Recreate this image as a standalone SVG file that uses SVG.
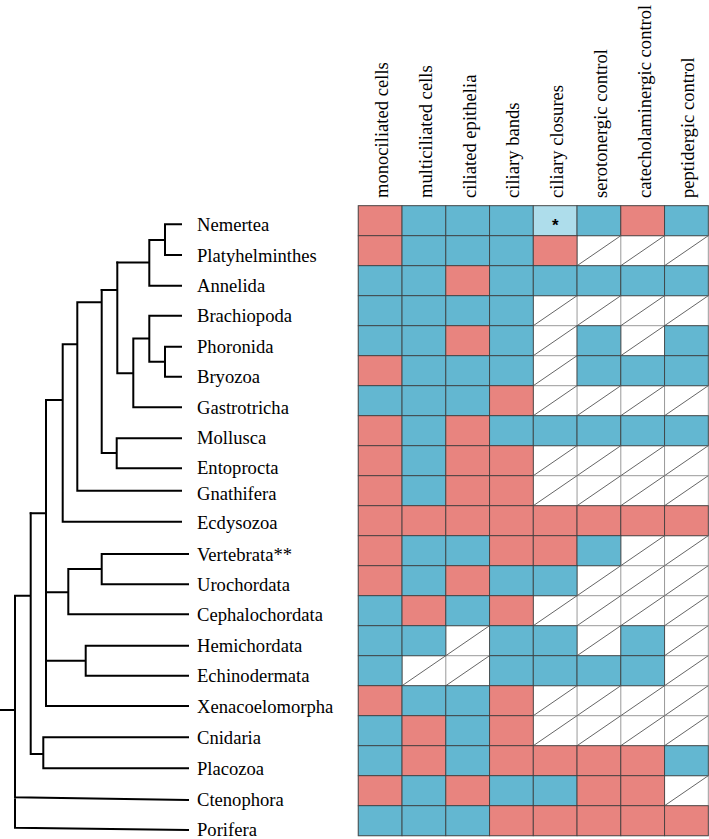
<svg xmlns="http://www.w3.org/2000/svg" xmlns:xlink="http://www.w3.org/1999/xlink" width="709" height="839" viewBox="0 0 709 839">
<style>
.t{font-family:"Liberation Serif","Times New Roman",serif;font-size:18.6px;fill:#000}
.r{fill:#E8847F;stroke:#3a3a3a;stroke-opacity:.8;stroke-width:1}
.b{fill:#63B7D1;stroke:#3a3a3a;stroke-opacity:.8;stroke-width:1}
.l{fill:#AEDDEB;stroke:#3a3a3a;stroke-opacity:.8;stroke-width:1}
.d{stroke:#666;stroke-width:1;fill:none}
.g{stroke:#999;stroke-width:1;fill:none}
.tree{stroke:#000;stroke-width:2;fill:none;stroke-linecap:square;stroke-linejoin:miter}
</style>
<defs>
<rect id="R" class="r" width="43.75" height="30"/>
<rect id="B" class="b" width="43.75" height="30"/>
<rect id="L" class="l" width="43.75" height="30"/>
<line id="W" class="d" x1="0" y1="30" x2="43.75" y2="0"/>
</defs>
<rect width="709" height="839" fill="#fff"/>
<g id="headers" class="t">
<text transform="translate(388.2,198) rotate(-90)">monociliated cells</text>
<text transform="translate(431.9,198) rotate(-90)">multiciliated cells</text>
<text transform="translate(475.7,198) rotate(-90)">ciliated epithelia</text>
<text transform="translate(519.4,198) rotate(-90)">ciliary bands</text>
<text transform="translate(563.2,198) rotate(-90)">ciliary closures</text>
<text transform="translate(606.9,198) rotate(-90)">serotonergic control</text>
<text transform="translate(650.7,198) rotate(-90)">catecholaminergic control</text>
<text transform="translate(694.4,198) rotate(-90)">peptidergic control</text>
</g>
<g id="grid" class="g">
<rect x="358.3" y="205.7" width="350" height="630" fill="#fff"/>
<path d="M402.05,205.7V835.7M445.8,205.7V835.7M489.55,205.7V835.7M533.3,205.7V835.7M577.05,205.7V835.7M620.8,205.7V835.7M664.55,205.7V835.7M358.3,235.7H708.3M358.3,265.7H708.3M358.3,295.7H708.3M358.3,325.7H708.3M358.3,355.7H708.3M358.3,385.7H708.3M358.3,415.7H708.3M358.3,445.7H708.3M358.3,475.7H708.3M358.3,505.7H708.3M358.3,535.7H708.3M358.3,565.7H708.3M358.3,595.7H708.3M358.3,625.7H708.3M358.3,655.7H708.3M358.3,685.7H708.3M358.3,715.7H708.3M358.3,745.7H708.3M358.3,775.7H708.3M358.3,805.7H708.3"/>
</g>
<g id="connectors" class="tree">
<path d="M181,224.3H165V255H181M165,240H149.3V285.7H181M149.3,262.5H117.3"/>
<path d="M181,346.7H165V376.7H181M165,361.7H149.3M181,315.7H149.3V361.7M149.3,338.5H133.3V407.3H181M133.3,373.3H117.3V262.5M117.3,290H101.7"/>
<path d="M181,438.3H116.7V468.3H181M116.7,453H101.7V290M101.7,302.3H77.3V490.7H181M77.3,344.3H62.7V521.7H181M62.7,400H46V706H188M46,513.3H30.7"/>
<path d="M188,554H101.7V584.3H188M101.7,569H68.3V614.3H188M68.3,592.3H46M188,645.7H85.7V675.7H188M85.7,660.7H46"/>
<path d="M188,737.3H43.3V768.3H188M43.3,754H30.7V513.3M30.7,595.7H15V828M15,797.3L188,800M15,827.7L188,830M0,710H15"/>
</g>
<g id="nemertea"><text class="t" x="197" y="230.7">Nemertea</text>
<use href="#R" x="358.3" y="205.7"/><use href="#B" x="402.05" y="205.7"/><use href="#B" x="445.8" y="205.7"/><use href="#B" x="489.55" y="205.7"/><use href="#L" x="533.3" y="205.7"/><use href="#B" x="577.05" y="205.7"/><use href="#R" x="620.8" y="205.7"/><use href="#B" x="664.55" y="205.7"/>
<text x="555.2" y="230.5" text-anchor="middle" style="font-family:'Liberation Sans',Arial,sans-serif;font-size:17px;font-weight:bold">*</text></g>
<g id="platyhelminthes"><text class="t" x="197" y="261.5">Platyhelminthes</text>
<use href="#R" x="358.3" y="235.7"/><use href="#B" x="402.05" y="235.7"/><use href="#B" x="445.8" y="235.7"/><use href="#B" x="489.55" y="235.7"/><use href="#R" x="533.3" y="235.7"/><use href="#W" x="577.05" y="235.7"/><use href="#W" x="620.8" y="235.7"/><use href="#W" x="664.55" y="235.7"/></g>
<g id="annelida"><text class="t" x="197" y="292.2">Annelida</text>
<use href="#B" x="358.3" y="265.7"/><use href="#B" x="402.05" y="265.7"/><use href="#R" x="445.8" y="265.7"/><use href="#B" x="489.55" y="265.7"/><use href="#B" x="533.3" y="265.7"/><use href="#B" x="577.05" y="265.7"/><use href="#B" x="620.8" y="265.7"/><use href="#B" x="664.55" y="265.7"/></g>
<g id="brachiopoda"><text class="t" x="197" y="322.2">Brachiopoda</text>
<use href="#B" x="358.3" y="295.7"/><use href="#B" x="402.05" y="295.7"/><use href="#B" x="445.8" y="295.7"/><use href="#B" x="489.55" y="295.7"/><use href="#W" x="533.3" y="295.7"/><use href="#W" x="577.05" y="295.7"/><use href="#W" x="620.8" y="295.7"/><use href="#W" x="664.55" y="295.7"/></g>
<g id="phoronida"><text class="t" x="197" y="353.2">Phoronida</text>
<use href="#B" x="358.3" y="325.7"/><use href="#B" x="402.05" y="325.7"/><use href="#R" x="445.8" y="325.7"/><use href="#B" x="489.55" y="325.7"/><use href="#W" x="533.3" y="325.7"/><use href="#B" x="577.05" y="325.7"/><use href="#W" x="620.8" y="325.7"/><use href="#B" x="664.55" y="325.7"/></g>
<g id="bryozoa"><text class="t" x="197" y="383.2">Bryozoa</text>
<use href="#R" x="358.3" y="355.7"/><use href="#B" x="402.05" y="355.7"/><use href="#B" x="445.8" y="355.7"/><use href="#B" x="489.55" y="355.7"/><use href="#W" x="533.3" y="355.7"/><use href="#B" x="577.05" y="355.7"/><use href="#B" x="620.8" y="355.7"/><use href="#B" x="664.55" y="355.7"/></g>
<g id="gastrotricha"><text class="t" x="197" y="413.8">Gastrotricha</text>
<use href="#B" x="358.3" y="385.7"/><use href="#B" x="402.05" y="385.7"/><use href="#B" x="445.8" y="385.7"/><use href="#R" x="489.55" y="385.7"/><use href="#W" x="533.3" y="385.7"/><use href="#W" x="577.05" y="385.7"/><use href="#W" x="620.8" y="385.7"/><use href="#W" x="664.55" y="385.7"/></g>
<g id="mollusca"><text class="t" x="197" y="444.3">Mollusca</text>
<use href="#R" x="358.3" y="415.7"/><use href="#B" x="402.05" y="415.7"/><use href="#R" x="445.8" y="415.7"/><use href="#B" x="489.55" y="415.7"/><use href="#B" x="533.3" y="415.7"/><use href="#B" x="577.05" y="415.7"/><use href="#B" x="620.8" y="415.7"/><use href="#B" x="664.55" y="415.7"/></g>
<g id="entoprocta"><text class="t" x="197" y="474.3">Entoprocta</text>
<use href="#R" x="358.3" y="445.7"/><use href="#B" x="402.05" y="445.7"/><use href="#R" x="445.8" y="445.7"/><use href="#R" x="489.55" y="445.7"/><use href="#W" x="533.3" y="445.7"/><use href="#W" x="577.05" y="445.7"/><use href="#W" x="620.8" y="445.7"/><use href="#W" x="664.55" y="445.7"/></g>
<g id="gnathifera"><text class="t" x="197" y="500">Gnathifera</text>
<use href="#R" x="358.3" y="475.7"/><use href="#B" x="402.05" y="475.7"/><use href="#R" x="445.8" y="475.7"/><use href="#R" x="489.55" y="475.7"/><use href="#W" x="533.3" y="475.7"/><use href="#W" x="577.05" y="475.7"/><use href="#W" x="620.8" y="475.7"/><use href="#W" x="664.55" y="475.7"/></g>
<g id="ecdysozoa"><text class="t" x="197" y="528.5">Ecdysozoa</text>
<use href="#R" x="358.3" y="505.7"/><use href="#R" x="402.05" y="505.7"/><use href="#R" x="445.8" y="505.7"/><use href="#R" x="489.55" y="505.7"/><use href="#R" x="533.3" y="505.7"/><use href="#R" x="577.05" y="505.7"/><use href="#R" x="620.8" y="505.7"/><use href="#R" x="664.55" y="505.7"/></g>
<g id="vertebrata"><text class="t" x="197" y="560.5">Vertebrata**</text>
<use href="#R" x="358.3" y="535.7"/><use href="#B" x="402.05" y="535.7"/><use href="#B" x="445.8" y="535.7"/><use href="#R" x="489.55" y="535.7"/><use href="#R" x="533.3" y="535.7"/><use href="#B" x="577.05" y="535.7"/><use href="#W" x="620.8" y="535.7"/><use href="#W" x="664.55" y="535.7"/></g>
<g id="urochordata"><text class="t" x="197" y="590.8">Urochordata</text>
<use href="#R" x="358.3" y="565.7"/><use href="#B" x="402.05" y="565.7"/><use href="#R" x="445.8" y="565.7"/><use href="#B" x="489.55" y="565.7"/><use href="#B" x="533.3" y="565.7"/><use href="#W" x="577.05" y="565.7"/><use href="#W" x="620.8" y="565.7"/><use href="#W" x="664.55" y="565.7"/></g>
<g id="cephalochordata"><text class="t" x="197" y="620.8">Cephalochordata</text>
<use href="#B" x="358.3" y="595.7"/><use href="#R" x="402.05" y="595.7"/><use href="#B" x="445.8" y="595.7"/><use href="#R" x="489.55" y="595.7"/><use href="#W" x="533.3" y="595.7"/><use href="#W" x="577.05" y="595.7"/><use href="#W" x="620.8" y="595.7"/><use href="#W" x="664.55" y="595.7"/></g>
<g id="hemichordata"><text class="t" x="197" y="652.2">Hemichordata</text>
<use href="#B" x="358.3" y="625.7"/><use href="#B" x="402.05" y="625.7"/><use href="#W" x="445.8" y="625.7"/><use href="#B" x="489.55" y="625.7"/><use href="#B" x="533.3" y="625.7"/><use href="#W" x="577.05" y="625.7"/><use href="#B" x="620.8" y="625.7"/><use href="#W" x="664.55" y="625.7"/></g>
<g id="echinodermata"><text class="t" x="197" y="682.2">Echinodermata</text>
<use href="#B" x="358.3" y="655.7"/><use href="#W" x="402.05" y="655.7"/><use href="#W" x="445.8" y="655.7"/><use href="#B" x="489.55" y="655.7"/><use href="#B" x="533.3" y="655.7"/><use href="#B" x="577.05" y="655.7"/><use href="#B" x="620.8" y="655.7"/><use href="#W" x="664.55" y="655.7"/></g>
<g id="xenacoelomorpha"><text class="t" x="197" y="712.5">Xenacoelomorpha</text>
<use href="#R" x="358.3" y="685.7"/><use href="#B" x="402.05" y="685.7"/><use href="#B" x="445.8" y="685.7"/><use href="#R" x="489.55" y="685.7"/><use href="#W" x="533.3" y="685.7"/><use href="#W" x="577.05" y="685.7"/><use href="#W" x="620.8" y="685.7"/><use href="#W" x="664.55" y="685.7"/></g>
<g id="cnidaria"><text class="t" x="197" y="743.8">Cnidaria</text>
<use href="#B" x="358.3" y="715.7"/><use href="#R" x="402.05" y="715.7"/><use href="#B" x="445.8" y="715.7"/><use href="#R" x="489.55" y="715.7"/><use href="#W" x="533.3" y="715.7"/><use href="#W" x="577.05" y="715.7"/><use href="#W" x="620.8" y="715.7"/><use href="#W" x="664.55" y="715.7"/></g>
<g id="placozoa"><text class="t" x="197" y="774.5">Placozoa</text>
<use href="#B" x="358.3" y="745.7"/><use href="#R" x="402.05" y="745.7"/><use href="#B" x="445.8" y="745.7"/><use href="#R" x="489.55" y="745.7"/><use href="#R" x="533.3" y="745.7"/><use href="#R" x="577.05" y="745.7"/><use href="#R" x="620.8" y="745.7"/><use href="#B" x="664.55" y="745.7"/></g>
<g id="ctenophora"><text class="t" x="197" y="806">Ctenophora</text>
<use href="#R" x="358.3" y="775.7"/><use href="#B" x="402.05" y="775.7"/><use href="#R" x="445.8" y="775.7"/><use href="#B" x="489.55" y="775.7"/><use href="#B" x="533.3" y="775.7"/><use href="#R" x="577.05" y="775.7"/><use href="#R" x="620.8" y="775.7"/><use href="#W" x="664.55" y="775.7"/></g>
<g id="porifera"><text class="t" x="197" y="836">Porifera</text>
<use href="#B" x="358.3" y="805.7"/><use href="#B" x="402.05" y="805.7"/><use href="#B" x="445.8" y="805.7"/><use href="#R" x="489.55" y="805.7"/><use href="#R" x="533.3" y="805.7"/><use href="#R" x="577.05" y="805.7"/><use href="#R" x="620.8" y="805.7"/><use href="#R" x="664.55" y="805.7"/></g>
</svg>
